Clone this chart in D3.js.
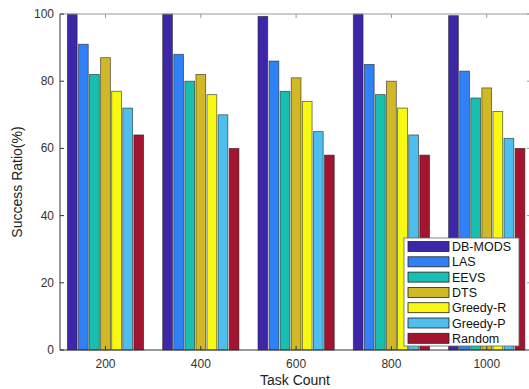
<!DOCTYPE html>
<html>
<head>
<meta charset="utf-8">
<script src="https://cdn.jsdelivr.net/npm/d3@7"></script>
<style>
  body { margin: 0; background: #fff; }
  text { font-family: "Liberation Sans", Arial, sans-serif; }
</style>
</head>
<body>
<svg id="chart" width="529" height="389"></svg>
<script>
(function () {
    // data
    const taskCounts = ["200", "400", "600", "800", "1000"];
    const methods = ["DB-MODS", "LAS", "EEVS", "DTS", "Greedy-R", "Greedy-P", "Random"];
    const colors = ["#3d27a8", "#3080f8", "#19bfae", "#d0b826", "#f8f812", "#4dbeee", "#a2142f"];
    const dbMods = [100, 100, 99.3, 100, 99.5];
    const las = [91, 88, 86, 85, 83];
    const eevs = [82, 80, 77, 76, 75];
    const dts = [87, 82, 81, 80, 78];
    const greedyR = [77, 76, 74, 72, 71];
    const greedyP = [72, 70, 65, 64, 63];
    const random = [64, 60, 58, 58, 60];
    const series = [dbMods, las, eevs, dts, greedyR, greedyP, random];
    const yTicks = [0, 20, 40, 60, 80, 100];

    const left = 60, right = 531, top = 14, bottom = 350;

    const svg = d3.select("#chart");

    // groups sit at 1..5 like matlab
    const x = d3.scaleLinear().domain([0.5226, 5.5]).range([left, 534.4]);
    const y = d3.scaleLinear().domain([0, 100]).range([bottom, top]);
    const step = x(2) - x(1);
    const inner = d3.scaleBand().domain(methods).range([-step * 0.4, step * 0.4]).paddingInner(0.12);

    // bars
    methods.forEach((m, i) => {
        svg.append("g")
            .selectAll("rect")
            .data(series[i])
            .join("rect")
            .attr("x", (d, j) => x(j + 1) + inner(m))
            .attr("y", d => y(d))
            .attr("width", inner.bandwidth())
            .attr("height", d => y(0) - y(d))
            .attr("fill", colors[i])
            .attr("stroke", "#222")
            .attr("stroke-opacity", 0.7)
            .attr("stroke-width", 0.8);
    });

    // box and ticks
    const axisColor = "#333";
    const box = svg.append("g");
    box.append("line").attr("x1", left).attr("x2", left).attr("y1", top).attr("y2", bottom).attr("stroke", axisColor);
    box.append("line").attr("x1", left).attr("x2", right).attr("y1", bottom).attr("y2", bottom).attr("stroke", axisColor);
    box.append("line").attr("x1", left).attr("x2", right).attr("y1", top).attr("y2", top).attr("stroke", "#999");
    box.append("line").attr("x1", right).attr("x2", right).attr("y1", top).attr("y2", bottom).attr("stroke", "#999");

    yTicks.forEach(t => {
        box.append("line").attr("x1", left).attr("x2", left + 4).attr("y1", y(t)).attr("y2", y(t)).attr("stroke", axisColor);
        box.append("line").attr("x1", right - 4).attr("x2", right).attr("y1", y(t)).attr("y2", y(t)).attr("stroke", "#999");
        box.append("text").attr("x", left - 6).attr("y", y(t) + 4)
            .attr("text-anchor", "end").attr("font-size", 12).attr("fill", "#333").text(t);
    });

    taskCounts.forEach((c, j) => {
        box.append("line").attr("x1", x(j + 1)).attr("x2", x(j + 1)).attr("y1", bottom).attr("y2", bottom - 4).attr("stroke", axisColor);
        box.append("line").attr("x1", x(j + 1)).attr("x2", x(j + 1)).attr("y1", top).attr("y2", top + 4).attr("stroke", "#999");
        box.append("text").attr("x", x(j + 1)).attr("y", bottom + 18)
            .attr("text-anchor", "middle").attr("font-size", 12).attr("fill", "#333").text(c);
    });

    // axis labels
    svg.append("text").attr("x", 295).attr("y", 385)
        .attr("text-anchor", "middle").attr("font-size", 14).attr("fill", "#222").text("Task Count");
    svg.append("text").attr("transform", "translate(22," + (top + bottom) / 2 + ") rotate(-90)")
        .attr("text-anchor", "middle").attr("font-size", 14).attr("fill", "#222").text("Success Ratio(%)");

    // legend
    const lx = 404, ly = 238, rowH = 15.3;
    const legend = svg.append("g");
    legend.append("rect").attr("x", lx).attr("y", ly).attr("width", 115).attr("height", 108)
        .attr("fill", "#fff").attr("stroke", "#666").attr("stroke-width", 0.8);
    methods.forEach((m, i) => {
        const cy = ly + 8.5 + i * rowH;
        legend.append("rect").attr("x", lx + 4).attr("y", cy - 5).attr("width", 41).attr("height", 10)
            .attr("fill", colors[i]).attr("stroke", "#222").attr("stroke-width", 0.8);
        legend.append("text").attr("x", lx + 48).attr("y", cy + 4.5)
            .attr("font-size", 12.5).attr("fill", "#111").text(m);
    });
})();
</script>
</body>
</html>
